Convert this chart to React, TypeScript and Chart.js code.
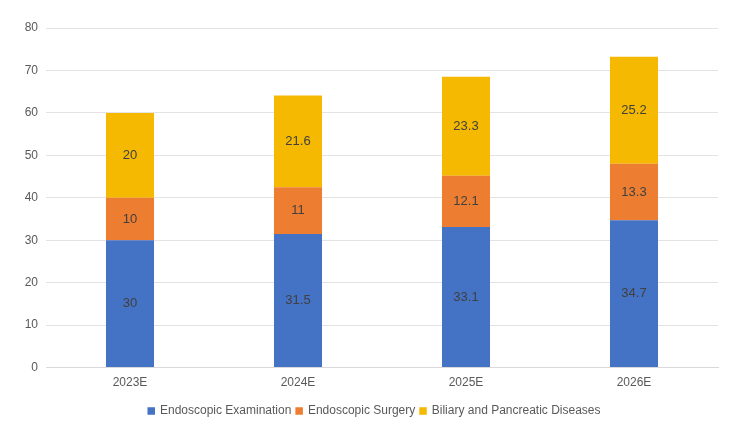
import React, { useEffect, useRef } from "react";
import { Chart, registerables } from "chart.js";

Chart.register(...registerables);

const categories = ["2023E", "2024E", "2025E", "2026E"];
const examination = [30, 31.5, 33.1, 34.7];
const surgery = [10, 11, 12.1, 13.3];
const biliary = [20, 21.6, 23.3, 25.2];
const seriesNames = ["Endoscopic Examination", "Endoscopic Surgery", "Biliary and Pancreatic Diseases"];
const yTicks = [0, 10, 20, 30, 40, 50, 60, 70, 80];

const FONT = "'Liberation Sans', Arial, sans-serif";

const labelPlugin = {
  id: "segLabels",
  afterDatasetsDraw(chart: any) {
    const ctx = chart.ctx;
    ctx.save();
    ctx.font = `13px ${FONT}`;
    ctx.fillStyle = "#404040";
    ctx.textAlign = "center";
    ctx.textBaseline = "middle";
    chart.data.datasets.forEach((ds: any, di: number) => {
      const meta = chart.getDatasetMeta(di);
      meta.data.forEach((bar: any, i: number) => {
        const y = (bar.y + bar.base) / 2;
        ctx.fillText(String(ds.data[i]), bar.x, y);
      });
    });
    ctx.restore();
  },
};

const legendPlugin = {
  id: "customLegend",
  afterDraw(chart: any) {
    const ctx = chart.ctx;
    ctx.save();
    ctx.font = `12px ${FONT}`;
    ctx.textBaseline = "middle";
    ctx.textAlign = "left";
    const box = 7.5;
    const gapText = 5;
    const gapItem = 4;
    const items = chart.data.datasets.map((ds: any) => ({
      label: ds.label,
      color: ds.backgroundColor,
      w: ctx.measureText(ds.label).width,
    }));
    const total =
      items.reduce((a: number, it: any) => a + box + gapText + it.w, 0) + gapItem * (items.length - 1);
    let x = 374 - total / 2;
    const cy = 411;
    items.forEach((it: any) => {
      ctx.fillStyle = it.color;
      ctx.fillRect(x, cy - box / 2, box, box);
      x += box + gapText;
      ctx.fillStyle = "#595959";
      ctx.fillText(it.label, x, cy);
      x += it.w + gapItem;
    });
    ctx.restore();
  },
};

export default function App() {
  const ref = useRef<HTMLCanvasElement>(null);
  useEffect(() => {
    if (!ref.current) return;
    const chart = new Chart(ref.current, {
      type: "bar",
      data: {
        labels: categories,
        datasets: [
          { label: seriesNames[0], data: examination, backgroundColor: "#4472C4" },
          { label: seriesNames[1], data: surgery, backgroundColor: "#ED7D31" },
          { label: seriesNames[2], data: biliary, backgroundColor: "#F4B900" },
        ],
      },
      options: {
        animation: false,
        responsive: false,
        devicePixelRatio: 1,
        layout: { padding: { left: 0, right: 24, top: 28, bottom: 41 } },
        datasets: { bar: { categoryPercentage: 1, barPercentage: 0.286 } },
        scales: {
          x: {
            stacked: true,
            grid: { display: false, drawTicks: false },
            border: { display: true, color: "#d9d9d9" },
            ticks: { color: "#595959", font: { family: FONT, size: 12 }, padding: 8 },
          },
          y: {
            stacked: true,
            min: 0,
            max: 80,
            afterBuildTicks: (s: any) => {
              s.ticks = yTicks.map((v) => ({ value: v }));
            },
            afterFit: (s: any) => {
              s.width = 46;
            },
            grid: { color: "#e3e3e3", drawTicks: false },
            border: { display: false },
            ticks: { color: "#595959", font: { family: FONT, size: 12 }, padding: 8 },
          },
        },
        plugins: {
          legend: { display: false },
          tooltip: { enabled: false },
        },
      },
      plugins: [labelPlugin, legendPlugin],
    });
    return () => chart.destroy();
  }, []);
  return (
    <div style={{ position: "absolute", left: 0, top: 0, width: 742, height: 439, background: "#fff" }}>
      <canvas ref={ref} width={742} height={439} style={{ display: "block" }} />
    </div>
  );
}
